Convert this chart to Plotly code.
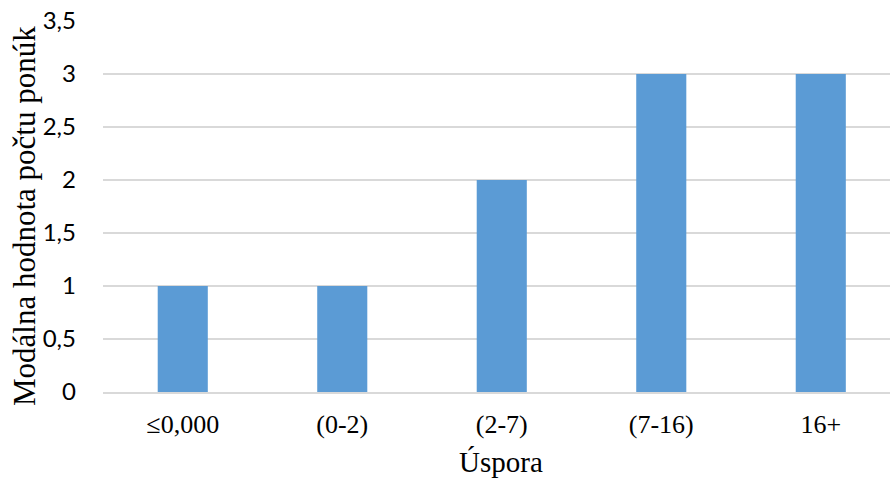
import plotly.graph_objects as go

categories = ["≤0,000", "(0-2)", "(2-7)", "(7-16)", "16+"]
values = [1, 1, 2, 3, 3]
y_tickvals = [0, 0.5, 1, 1.5, 2, 2.5, 3, 3.5]
y_ticktext = ["0", "0,5", "1", "1,5", "2", "2,5", "3", "3,5"]
x_title = "Úspora"
y_title = "Modálna hodnota počtu ponúk"

W, H = 890, 479
L, R, T, B = 103, 0, 21, 87
pw, ph = W - L - R, H - T - B

fig = go.Figure()
fig.add_trace(go.Bar(x=list(range(len(categories))), y=values,
                     marker=dict(color="#5B9BD5", line=dict(width=0))))

fig.update_layout(
    width=W, height=H,
    margin=dict(l=L, r=R, t=T, b=B, autoexpand=False),
    paper_bgcolor="white", plot_bgcolor="white",
    bargap=0.686,
    showlegend=False,
    xaxis=dict(
        range=[-0.5, 4.434], automargin=False,
        tickvals=list(range(len(categories))), ticktext=categories,
        tickfont=dict(family="Liberation Serif", size=26, color="#000000"),
        showgrid=False, zeroline=False,
        showline=True, linecolor="#D9D9D9", linewidth=1.5,
        ticks="", ticklabelstandoff=8,
    ),
    yaxis=dict(
        range=[0, 3.5], automargin=False,
        tickvals=y_tickvals, ticktext=y_ticktext,
        tickfont=dict(family="Lato", size=24, color="#000000"),
        showgrid=True, gridcolor="#D9D9D9", gridwidth=1.5,
        zeroline=False, showline=False,
        ticks="", ticklabelstandoff=26,
    ),
    annotations=[
        dict(text=x_title, xref="paper", yref="paper",
             x=(501 - L) / pw, y=-(462 - (T + ph)) / ph,
             xanchor="center", yanchor="middle", showarrow=False,
             font=dict(family="Liberation Serif", size=29, color="#000000")),
        dict(text=y_title, xref="paper", yref="paper",
             x=-(L - 25) / pw, y=((T + ph) - 216) / ph,
             xanchor="center", yanchor="middle", textangle=-90, showarrow=False,
             font=dict(family="Liberation Serif", size=31, color="#000000")),
    ],
)

fig.write_html("out.html", config={"displayModeBar": False},
               post_script="document.body.style.margin='0';document.body.style.overflow='hidden';")
